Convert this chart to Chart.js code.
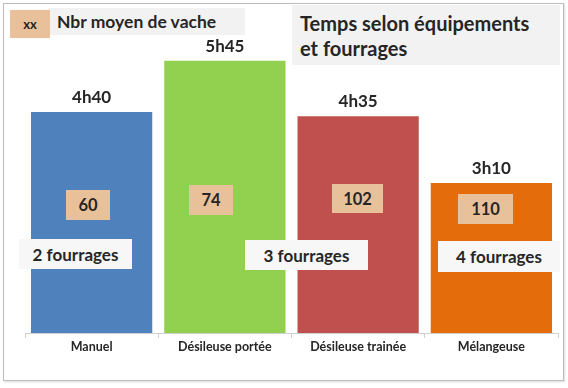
<!DOCTYPE html>
<html lang="fr">
<head>
<meta charset="UTF-8">
<title>Temps selon équipements et fourrages</title>
<script src="https://cdn.jsdelivr.net/npm/chart.js"></script>
<style>
    body { margin: 0; background: #fff; font-family: Lato, 'Open Sans', sans-serif; }
    .frame {
        position: absolute; left: 3px; top: 3px; width: 559px; height: 376px;
        border: 1.5px solid #bdbdbd; box-shadow: 1px 1px 2px rgba(0,0,0,0.15);
    }
    .wrap { position: relative; width: 568px; height: 388px; }
    canvas { position: absolute; left: 0; top: 0; }
    .box {
        position: absolute; font-weight: 700; color: #262626;
        display: flex; align-items: center; justify-content: center; box-sizing: border-box;
    }
    .tan { background: #e8c19b; font-size: 16.5px; }
    .grey { background: #f2f2f2; }
    .white { background: #f7f7f7; font-size: 17px; }
</style>
</head>
<body>
<div class="wrap" id="wrap">
    <div class="frame"></div>
    <canvas id="chart" width="568" height="388"></canvas>
    <div class="box grey" style="left:48px;top:8px;width:197px;height:27px;font-size:17.5px;justify-content:flex-start;padding-left:9px;">Nbr moyen de vache</div>
    <div class="box tan" style="left:10px;top:10px;width:40px;height:28px;font-size:13px;">xx</div>
    <div class="box grey" style="left:292px;top:5px;width:268px;height:60px;font-size:20px;justify-content:flex-start;align-items:flex-start;padding:6px 0 0 8px;line-height:25px;">Temps selon équipements<br>et fourrages</div>
</div>
<script>
    const categories = ["Manuel", "Désileuse portée", "Désileuse trainée", "Mélangeuse"];
    const hours = [4.67, 5.75, 4.58, 3.17];
    const timeLabels = ["4h40", "5h45", "4h35", "3h10"];
    const cows = ["60", "74", "102", "110"];
    const forages = ["2 fourrages", "3 fourrages", "4 fourrages"];
    const barColors = ["#4f81bd", "#92d050", "#c0504d", "#e46c0a"];

    // where the pasted text boxes sit (left, top, width, height)
    const cowBoxes = [[66, 190, 44, 30], [189, 185, 44, 30], [332, 184, 51, 29], [458, 194, 55, 30]];
    const forageBoxes = [[19, 239, 113, 30], [245, 240, 123, 30], [438, 241, 122, 31]];

    const wrap = document.getElementById("wrap");
    function addBox(cls, txt, b) {
        const d = document.createElement("div");
        d.className = "box " + cls;
        d.textContent = txt;
        d.style.left = b[0] + "px"; d.style.top = b[1] + "px";
        d.style.width = b[2] + "px"; d.style.height = b[3] + "px";
        wrap.appendChild(d);
    }
    cows.forEach((c, i) => addBox("tan", c, cowBoxes[i]));
    forages.forEach((f, i) => addBox("white", f, forageBoxes[i]));

    const topLabels = {
        id: "topLabels",
        afterDatasetsDraw(chart) {
            const ctx = chart.ctx;
            const meta = chart.getDatasetMeta(0);
            ctx.save();
            ctx.font = "bold 17px Lato, sans-serif";
            ctx.fillStyle = "#262626";
            ctx.textAlign = "center";
            ctx.textBaseline = "bottom";
            meta.data.forEach((bar, i) => {
                ctx.fillText(timeLabels[i], bar.x, bar.y - 6);
            });
            ctx.restore();
        }
    };

    new Chart(document.getElementById("chart"), {
        type: "bar",
        data: {
            labels: categories,
            datasets: [{
                data: hours,
                backgroundColor: barColors,
                barPercentage: 0.91,
                categoryPercentage: 1
            }]
        },
        options: {
            responsive: false,
            animation: false,
            layout: { padding: { left: 25, right: 10, top: 49, bottom: 33 } },
            plugins: { legend: { display: false }, tooltip: { enabled: false } },
            scales: {
                x: {
                    grid: { offset: true, drawOnChartArea: false, tickLength: 5, color: "#d0d0d0" },
                    border: { color: "#d0d0d0" },
                    ticks: { color: "#262626", font: { family: "Lato", size: 12.5, weight: "bold" }, padding: 1 }
                },
                y: { display: false, min: 0, max: 6 }
            }
        },
        plugins: [topLabels]
    });
</script>
</body>
</html>
